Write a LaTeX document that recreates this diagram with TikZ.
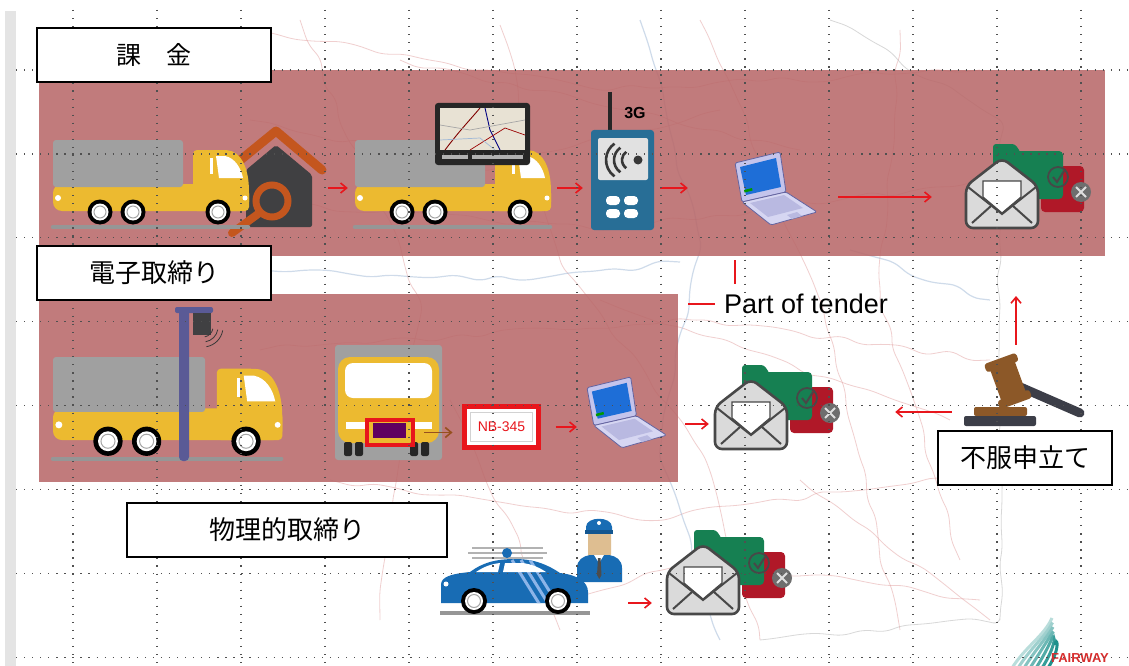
\documentclass[tikz,border=0pt]{standalone}
\usepackage{fontspec}
\setmainfont{Liberation Sans}
\newfontfamily\jpfont{Noto Sans CJK JP}
\usetikzlibrary{arrows.meta,fit,decorations.pathmorphing}

\definecolor{bandred}{RGB}{185,105,106}
\definecolor{flowred}{RGB}{232,22,28}
\definecolor{platebrown}{RGB}{150,80,30}
\definecolor{truckyellow}{RGB}{236,186,48}
\definecolor{trailergray}{RGB}{160,160,160}
\definecolor{roadgray}{RGB}{150,150,150}
\definecolor{housegray}{RGB}{64,64,66}
\definecolor{houseorange}{RGB}{196,86,30}
\definecolor{deviceblue}{RGB}{40,110,150}
\definecolor{screenlight}{RGB}{225,225,225}
\definecolor{arcdark}{RGB}{55,55,55}
\definecolor{lidlav}{RGB}{196,196,236}
\definecolor{baselav}{RGB}{214,214,242}
\definecolor{keylav}{RGB}{185,185,225}
\definecolor{lavedge}{RGB}{100,100,160}
\definecolor{screenblue}{RGB}{30,110,215}
\definecolor{foldergreen}{RGB}{22,128,82}
\definecolor{folderred}{RGB}{176,24,40}
\definecolor{envfill}{RGB}{218,218,218}
\definecolor{envedge}{RGB}{72,72,72}
\definecolor{xgray}{RGB}{110,110,110}
\definecolor{gavelbrown}{RGB}{140,88,40}
\definecolor{gaveldark}{RGB}{60,62,72}
\definecolor{polepurple}{RGB}{90,90,150}
\definecolor{copblue}{RGB}{24,108,180}
\definecolor{stripeblue}{RGB}{140,180,232}
\definecolor{skintan}{RGB}{222,190,145}
\definecolor{mappink}{RGB}{226,160,160}
\definecolor{mapblue}{RGB}{160,185,215}
\definecolor{gridgray}{RGB}{80,80,80}
\definecolor{barlight}{RGB}{228,228,228}
\definecolor{logoteal}{RGB}{20,140,135}
\definecolor{logored}{RGB}{215,45,45}
\definecolor{tabletmap}{RGB}{232,226,212}

\tikzset{
  labelbox/.style={draw=black, line width=1.1pt, fill=white, inner sep=0pt,
    minimum height=54pt, font=\jpfont\fontsize{25}{25}\selectfont},
  band/.style={fill=bandred, fill opacity=0.88},
  hitbox/.style={inner sep=0pt, draw=none},
  flowarrow/.style={draw=flowred, line width=1.6pt,
    -{Straight Barb[length=6pt,width=10pt]}},
  gridrule/.style={draw=gridgray, line width=1.25pt, dash pattern=on 1.25pt off 6.8pt},
  mapstroke/.style={line width=0.8pt, opacity=0.5, rounded corners=7pt,
    decorate, decoration={random steps, segment length=22pt, amplitude=4pt}},
  % side view of a lorry, origin at the top left corner of the box body
  pics/truckside/.style={code={
    \draw[roadgray, line width=4.5pt, line cap=round] (0,87) -- (195,87);
    \fill[truckyellow, rounded corners=9pt] (0,44) rectangle (196,71);
    \fill[truckyellow, rounded corners=4pt] (140,71) -- (140,10) -- (170,10)
       .. controls (188,11) and (195,28) .. (196,50) -- (196,71) -- cycle;
    \fill[trailergray, rounded corners=3pt] (0,0) rectangle (130,47);
    \fill[white] (163,16) -- (172,16) .. controls (182,18) and (188,28) .. (190,38)
       -- (166,38) -- cycle;
    \fill[white] (157,18) rectangle (160,34);
    \fill[white] (5,58) circle (3);
    \fill[white] (192,58) circle (2.5);
    \foreach \wx in {47,80,165}{
      \fill[black] (\wx,72) circle (12.5);
      \fill[white] (\wx,72) circle (8.5);
      \draw[gray!70, line width=1pt] (\wx,72) circle (6);
    }
  }},
  % small laptop, origin at the top left corner
  pics/laptop/.style={code={
    \filldraw[fill=lidlav, draw=lavedge, line width=0.8pt, rounded corners=1.5pt]
      (0,11) -- (45,0) -- (51,40) -- (7,50) -- cycle;
    \fill[screenblue] (5,15) -- (41,6) -- (46,35) -- (11,43) -- cycle;
    \fill[green!60!black] (9,38) -- (17,36) -- (17.5,38.5) -- (9.5,40.5) -- cycle;
    \filldraw[fill=baselav, draw=lavedge, line width=0.8pt, rounded corners=1.5pt]
      (7,50) -- (51,40) -- (82,60) -- (36,73) -- cycle;
    \fill[keylav] (15,51) -- (49,43) -- (68,56) -- (33,65) -- cycle;
    \fill[keylav] (52,63) -- (62,60) -- (67,64) -- (57,67) -- cycle;
  }},
  % envelope in front of a green and a red folder
  pics/mailset/.style={code={
    \fill[folderred, rounded corners=4pt] (76,9) rectangle (119,55);
    \fill[foldergreen, rounded corners=4pt] (28,-6) rectangle (98,42);
    \fill[foldergreen, rounded corners=3pt] (28,2) -- (28,-13) -- (50,-13) -- (56,-4) -- cycle;
    \filldraw[fill=envfill, draw=envedge, line width=2.6pt, rounded corners=7pt]
      (1,29) -- (37,1) -- (73,29) -- (73,71) -- (1,71) -- cycle;
    \filldraw[fill=white, draw=envedge, line width=1.2pt]
      (18,24) -- (56,24) -- (56,40) -- (37,56) -- (18,40) -- cycle;
    \draw[envedge, line width=2pt] (3,30) -- (37,57) -- (71,30);
    \draw[envedge, line width=2pt] (7,66) -- (26,49) (67,66) -- (48,49);
    \draw[envedge, line width=1.8pt] (93,20) circle (10);
    \draw[envedge, line width=2pt] (88,20) -- (92,25) -- (99,14);
    \fill[xgray] (116,35) circle (10);
    \draw[white!75!gray, line width=2pt] (111,30) -- (121,40) (111,40) -- (121,30);
  }},
}

\begin{document}
\begin{tikzpicture}[x=1pt, y=-1pt]
\useasboundingbox (0,0) rectangle (1129,666);
\fill[white] (0,0) rectangle (1129,666);
\fill[barlight] (5,11) rectangle (16,666);

% faint road map in the background
\pgfmathsetseed{7}
\begin{scope}
  \draw[mapstroke, mappink] (250,30) -- (600,90) -- (980,70);
  \draw[mapstroke, mappink] (300,20) -- (420,300) -- (380,620);
  \draw[mapstroke, mappink] (500,25) -- (560,260) -- (700,450) -- (760,640);
  \draw[mapstroke, mappink] (245,200) -- (600,230) -- (990,180);
  \draw[mapstroke, mappink] (260,350) -- (700,320) -- (990,360);
  \draw[mapstroke, mappink] (330,480) -- (640,520) -- (1000,470);
  \draw[mapstroke, mappink] (700,20) -- (820,300) -- (900,630);
  \draw[mapstroke, mappink] (900,30) -- (880,300) -- (960,560);
  \draw[mapstroke, mappink] (400,60) -- (800,150);
  \draw[mapstroke, mappink] (600,300) -- (950,420);
  \draw[mapstroke, mappink] (450,400) -- (560,630);
  \draw[mapstroke, mappink] (800,480) -- (990,620);
  \draw[mapstroke, mappink] (250,120) -- (480,170) -- (720,110);
  \draw[mapstroke, mappink] (560,600) -- (700,560) -- (980,600);
  \draw[mapstroke, mapblue, line width=1.2pt] (640,20) -- (700,240) -- (660,450) -- (720,640);
  \draw[mapstroke, mapblue, line width=1.2pt] (850,250) -- (990,300);
  \draw[mapstroke, mapblue, line width=1.2pt] (260,270) -- (520,280) -- (680,262);
  \draw[mapstroke, gray!60] (830,20) -- (1000,120) -- (1000,620) -- (760,640);
\end{scope}

% coloured bands
\fill[band] (39,70) rectangle (1105,256);
\fill[band] (39,294) rectangle (678,482);

% ---------- tolling row ----------
% service house with wrench
\fill[housegray, rounded corners=2pt] (246,227) -- (246,170) -- (276,145) -- (312,175) -- (312,227) -- cycle;
\draw[houseorange, line width=9pt, line cap=round, line join=round] (238,162) -- (276,131) -- (322,170);
\draw[houseorange, line width=8pt, line cap=round] (258,214) -- (232,233);
\draw[houseorange, line width=7pt] (272,201) circle (16);
\pic (truckA) at (53,140) {truckside};
\pic (truckB) at (355,140) {truckside};
% on-board unit screen
\fill[black!85, rounded corners=3pt] (435,103) rectangle (530,165);
\fill[tabletmap] (440,108) rectangle (525,150);
\begin{scope}
  \clip (440,108) rectangle (525,150);
  \draw[red!50!black, line width=0.9pt] (445,150) .. controls (460,130) and (470,120) .. (480,108);
  \draw[blue!50!black, line width=0.9pt] (485,108) -- (490,130) -- (500,150);
  \draw[gray!70, line width=0.7pt] (440,125) -- (470,130) -- (525,120);
  \draw[red!60!black, line width=0.7pt] (470,150) -- (505,128) -- (525,135);
  \draw[mapblue, line width=0.7pt] (440,140) -- (480,138) -- (495,150);
\end{scope}
\fill[gray!60] (442,155) rectangle (468,159);
\fill[gray!60] (472,155) rectangle (523,159);
% 3G transponder
\draw[black!85, line width=4pt] (610,92) -- (610,132);
\node[font=\bfseries\fontsize{16}{16}\selectfont, inner sep=0pt] (threeg) at (635,113) {3G};
\fill[deviceblue, rounded corners=3pt] (591,130) rectangle (654,230);
\fill[screenlight, rounded corners=2pt] (598,138) rectangle (648,180);
\draw[arcdark, line width=2.6pt] (626,160) ++(125:20) arc[start angle=125, end angle=235, radius=20];
\draw[arcdark, line width=2.6pt] (629,160) ++(125:15) arc[start angle=125, end angle=235, radius=15];
\draw[arcdark, line width=2.6pt] (632,160) ++(125:10) arc[start angle=125, end angle=235, radius=10];
\fill[arcdark] (638,160) circle (4.5);
\fill[white, rounded corners=4pt] (606,196) rectangle (620,205);
\fill[white, rounded corners=4pt] (624,196) rectangle (638,205);
\fill[white, rounded corners=4pt] (606,209) rectangle (620,218);
\fill[white, rounded corners=4pt] (624,209) rectangle (638,218);
\pic (laptopA) at (735,152) {laptop};
\pic (mailA) at (965,157) {mailset};

% ---------- electronic enforcement row ----------
\pic[scale=1.17] (truckC) at (53,357) {truckside};
% gantry pole with reader
\fill[polepurple, rounded corners=4pt] (179,309) rectangle (189,461);
\fill[polepurple, rounded corners=2pt] (175,307) rectangle (213,313);
\fill[housegray] (193,313) rectangle (211,335);
\foreach \rr in {10,15,20}
  \draw[arcdark, line width=0.8pt] (203,327) ++(10:\rr) arc[start angle=10, end angle=80, radius=\rr];
% lorry seen from the front
\fill[trailergray, rounded corners=3pt] (335,345) rectangle (442,460);
\fill[truckyellow, rounded corners=12pt] (338,357) rectangle (439,443);
\fill[white, rounded corners=8pt] (345,363) rectangle (432,398);
\fill[white] (346,422) rectangle (366,429);
\fill[white] (414,422) rectangle (432,429);
\fill[black!85, rounded corners=2pt] (344,442) rectangle (352,456);
\fill[black!85, rounded corners=2pt] (355,442) rectangle (363,456);
\fill[black!85, rounded corners=2pt] (410,442) rectangle (418,456);
\fill[black!85, rounded corners=2pt] (421,442) rectangle (429,456);
\fill[violet!75!black] (373,423) rectangle (406,438);
\node[draw=flowred, line width=4pt, minimum width=46pt, minimum height=25pt, inner sep=0pt] (platehl) at (390,432.5) {};
\node[draw=flowred, line width=5pt, fill=white, minimum width=74pt, minimum height=41pt, inner sep=0pt] (nbplate) at (501.5,427) {};
\node[draw=gray!35, line width=1pt, fill=white, minimum width=62pt, minimum height=29pt,
  inner sep=0pt, text=flowred, font=\fontsize{14}{14}\selectfont] (nbtext) at (501.5,427) {NB-345};
\pic[scale=0.97] (laptopB) at (587,377) {laptop};
\pic (mailB) at (714,378) {mailset};

% gavel
\draw[gaveldark, line width=9pt, line cap=round] (1018,386) -- (1080,413);
\begin{scope}[rotate around={20:(1008,381)}]
  \fill[gavelbrown, rounded corners=3pt] (995,362) rectangle (1021,400);
  \fill[gavelbrown, rounded corners=3pt] (991,357) rectangle (1025,366);
  \fill[gavelbrown, rounded corners=3pt] (991,396) rectangle (1025,405);
\end{scope}
\fill[gavelbrown, rounded corners=2pt] (974,407) rectangle (1027,416);
\fill[gaveldark, rounded corners=2pt] (964,416) rectangle (1036,426);

% ---------- physical enforcement row ----------
\draw[roadgray, line width=4pt] (440,613) -- (590,613);
\draw[gray!60, line width=1.2pt] (472,548) -- (543,548) (468,553) -- (547,553) (472,558) -- (543,558);
\fill[copblue] (507,553) circle (5);
\fill[copblue] (441,603) -- (441,585) .. controls (441,577) and (450,574) .. (470,572)
  .. controls (482,563) and (495,559) .. (515,559) .. controls (535,559) and (548,565) .. (560,573)
  .. controls (578,575) and (588,582) .. (588,592) -- (588,603) -- cycle;
\begin{scope}
  \clip (441,603) -- (441,585) .. controls (441,577) and (450,574) .. (470,572)
    .. controls (482,563) and (495,559) .. (515,559) .. controls (535,559) and (548,565) .. (560,573)
    .. controls (578,575) and (588,582) .. (588,592) -- (588,603) -- cycle;
  \draw[stripeblue, line width=3pt] (512,560) -- (540,605) (521,560) -- (549,605) (530,560) -- (558,605);
\end{scope}
\fill[white] (476,572) .. controls (485,566) and (492,564) .. (500,563) -- (498,572) -- cycle;
\fill[white] (505,563) -- (522,563) .. controls (532,564) and (540,568) .. (546,572) -- (503,572) -- cycle;
\fill[white] (446,584) circle (2.5);
\foreach \wx in {474,558}{
  \fill[black] (\wx,601) circle (13);
  \fill[white] (\wx,601) circle (9);
  \draw[gray!70, line width=1pt] (\wx,601) circle (6.5);
}
% police officer
\fill[skintan, rounded corners=6pt] (588,528) rectangle (611,560);
\fill[copblue] (577,582) -- (577,568) .. controls (577,560) and (583,556) .. (590,555)
  -- (609,555) .. controls (616,556) and (622,560) .. (622,568) -- (622,582) -- cycle;
\fill[white] (594,555) -- (599,563) -- (604,555) -- cycle;
\fill[black!70] (598,558) -- (600.5,558) -- (601.5,575) -- (599.3,579) -- (597,575) -- cycle;
\fill[copblue] (586,532) -- (586,527) .. controls (586,516) and (612,516) .. (612,527) -- (612,532) -- cycle;
\fill[copblue!80!black] (585,530) rectangle (613,534);
\fill[white] (599,523) circle (2);
\pic (mailC) at (666,543) {mailset};

% logo
\foreach \i in {0,...,6}{
  \pgfmathtruncatemacro\tint{30+11*\i}
  \draw[logoteal!\tint!white, line width=3pt]
    (1012+6*\i,668) .. controls (1026+6*\i,646) and (1044+2*\i,636) .. (1052+0.5*\i,618+4.5*\i);
}
\node[font=\bfseries\fontsize{13}{13}\selectfont, text=logored, inner sep=0pt] (logo) at (1080,658) {FAIRWAY};

% anchors used by the connectors
\node[hitbox, fit={(240,150) (328,226)}] (househit) {};
\node[hitbox, fit={(348,150) (557,226)}] (truckbhit) {};
\node[hitbox, fit={(583,150) (660,226)}] (devhit) {};
\node[hitbox, fit={(688,161) (838,233)}] (lapahit) {};
\node[hitbox, fit={(932,161) (1092,233)}] (mailahit) {};
\node[hitbox, fit={(577,397) (685,451)}] (lapbhit) {};
\node[hitbox, fit={(709,364) (895,460)}] (mailbhit) {};
\node[hitbox, fit={(952,345) (1090,479)}] (gavelhit) {};
\node[hitbox, fit={(440,593) (628,613)}] (cophit) {};
\node[hitbox, fit={(652,571) (790,635)}] (mailchit) {};
\coordinate (appeal) at (1016,296);

% connectors
\draw[flowarrow] (househit.east) -- (truckbhit.west);
\draw[flowarrow] (truckbhit.east) -- (devhit.west);
\draw[flowarrow] (devhit.east) -- (devhit.east -| lapahit.west);
\draw[flowarrow] (lapahit.east) -- (mailahit.west);
\draw[flowarrow, draw=platebrown, shorten <=9pt, shorten >=9.5pt] (platehl.east) -- (platehl.east -| nbplate.west);
\draw[flowarrow, shorten <=14.5pt] (nbplate.east) -- (nbplate.east -| lapbhit.west);
\draw[flowarrow] (lapbhit.east) -- (lapbhit.east -| mailbhit.west);
\draw[flowarrow] (gavelhit.west) -- (gavelhit.west -| mailbhit.east);
\draw[flowarrow] (appeal |- gavelhit.north) -- (appeal);
\draw[flowarrow] (cophit.east) -- (mailchit.west);

% tender marker
\coordinate (ticktop) at (735,260);
\coordinate (tickbot) at (735,284);
\draw[flowred, line width=2.5pt] (ticktop) -- (tickbot);
\node[anchor=west, inner sep=0pt, font=\fontsize{27}{27}\selectfont] (tender) at (724,304) {Part of tender};
\coordinate (dashA) at (688,304);
\coordinate (dashB) at (715,304);
\draw[flowred, line width=2pt] (dashA) -- (dashB);

% dotted grid
\foreach \gx in {0,...,12}
  \draw[gridrule] ({73+84*\gx},10) -- ({73+84*\gx},666);
\foreach \gy in {0,...,7}
  \draw[gridrule] (16,{70+83.9*\gy}) -- (1129,{70+83.9*\gy});

% section labels
\node[labelbox, minimum width=234pt] (tolling) at (154,55) {課　金};
\node[labelbox, minimum width=234pt, font=\jpfont\fontsize{26}{26}\selectfont] (eenforce) at (154,273) {電子取締り};
\node[labelbox, minimum width=320pt, font=\jpfont\fontsize{26}{26}\selectfont] (penforce) at (287,530) {物理的取締り};
\node[labelbox, minimum width=174pt, font=\jpfont\fontsize{26}{26}\selectfont] (appealbox) at (1025,458) {不服申立て};
\end{tikzpicture}
\end{document}
